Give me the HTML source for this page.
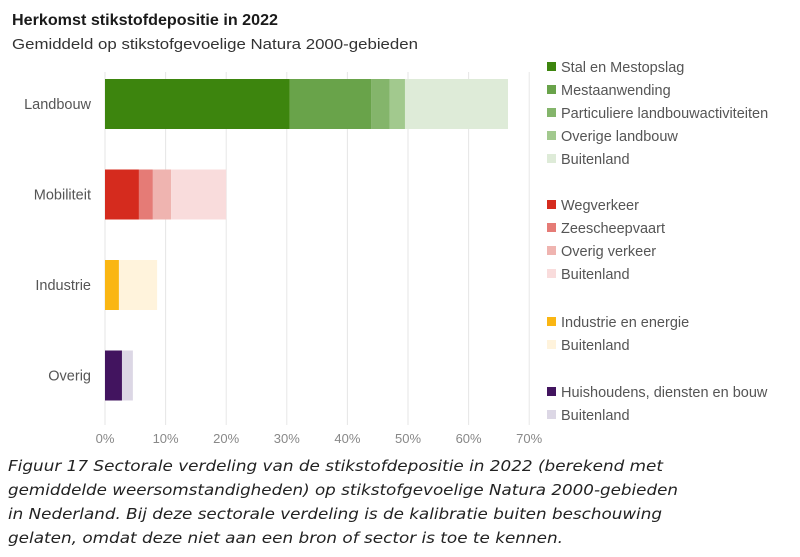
<!DOCTYPE html>
<html><head><meta charset="utf-8"><style>
body{margin:0;background:#fff;width:800px;height:557px;overflow:hidden;font-family:"Liberation Sans",sans-serif;}
svg{position:absolute;left:0;top:0}
</style></head><body>
<svg width="800" height="557">
<text x="12" y="25" font-size="15.5" font-weight="bold" fill="#1a1a1a" textLength="266" lengthAdjust="spacingAndGlyphs">Herkomst stikstofdepositie in 2022</text>
<text x="12" y="49" font-size="14.5" fill="#333" textLength="406" lengthAdjust="spacingAndGlyphs">Gemiddeld op stikstofgevoelige Natura 2000-gebieden</text>
<g id="grid"></g><g id="bars"></g><g id="ylab"></g><g id="xlab"></g><g id="legend"></g>
<g font-family="DejaVu Sans, sans-serif" font-style="italic" font-size="15.5" fill="#222">
<text x="8" y="471" textLength="655" lengthAdjust="spacingAndGlyphs">Figuur 17 Sectorale verdeling van de stikstofdepositie in 2022 (berekend met</text>
<text x="8" y="495" textLength="670" lengthAdjust="spacingAndGlyphs">gemiddelde weersomstandigheden) op stikstofgevoelige Natura 2000-gebieden</text>
<text x="8" y="519" textLength="654" lengthAdjust="spacingAndGlyphs">in Nederland. Bij deze sectorale verdeling is de kalibratie buiten beschouwing</text>
<text x="8" y="543" textLength="555" lengthAdjust="spacingAndGlyphs">gelaten, omdat deze niet aan een bron of sector is toe te kennen.</text>
</g>
</svg>
<script>
const categories=["Landbouw","Mobiliteit","Industrie","Overig"];
const landbouwValues=[30.5,13.4,3.1,2.5,17.0];
const mobiliteitValues=[5.6,2.3,3.0,9.1];
const industrieValues=[2.3,6.3];
const overigValues=[2.8,1.8];
const tickLabels=["0%","10%","20%","30%","40%","50%","60%","70%"];
const landbouwLabels=["Stal en Mestopslag","Mestaanwending","Particuliere landbouwactiviteiten","Overige landbouw","Buitenland"];
const mobiliteitLabels=["Wegverkeer","Zeescheepvaart","Overig verkeer","Buitenland"];
const industrieLabels=["Industrie en  energie","Buitenland"];
const overigLabels=["Huishoudens, diensten en bouw","Buitenland"];
const series=[landbouwValues,mobiliteitValues,industrieValues,overigValues];
const labels=[landbouwLabels,mobiliteitLabels,industrieLabels,overigLabels];
const colors=[["#3d850e","#69a34a","#84b56b","#a2c98e","#deebd8"],["#d52b1e","#e57b76","#efb4b0","#f9dcdc"],["#fab613","#fff3dc"],["#42145f","#dcd7e5"]];
const NS="http://www.w3.org/2000/svg";
const x=v=>105+v*6.06;
const y=i=>79+i*90.5;
function mk(t,a,p){const e=document.createElementNS(NS,t);for(const k in a)e.setAttribute(k,a[k]);document.getElementById(p).appendChild(e);return e;}
tickLabels.forEach((t,i)=>{
 const l=mk("line",{x1:x(i*10),x2:x(i*10),y1:72,y2:425,stroke:"#e6e6e6","stroke-width":1},"grid");
 
 
 const tx=mk("text",{x:x(i*10),y:443,"text-anchor":"middle","font-size":13,fill:"#888"},"xlab");
 tx.textContent=t;
 
 
});
series.forEach((vals,i)=>{
 let acc=0;
 const yl=mk("text",{x:91,y:y(i)+30,"text-anchor":"end","font-size":14.5,fill:"#555"},"ylab");
 yl.textContent=categories[i];
 
 
 vals.forEach((v,j)=>{
  const r=mk("rect",{x:x(acc),y:y(i),width:x(acc+v)-x(acc),height:50,fill:colors[i][j]},"bars");
  
  
  acc+=v;
 });
});
const groupStart=[67,205,322,392];
labels.forEach((ls,i)=>ls.forEach((t,j)=>{
 const yy=groupStart[i]+j*23;
 const s=mk("rect",{x:547,y:yy-5,width:9,height:9,fill:colors[i][j]},"legend");
 
 
 const tx=mk("text",{x:561,y:yy+5,"font-size":14.5,fill:"#555"},"legend");
 tx.textContent=t;
 
 
}));
</script>
</body></html>
